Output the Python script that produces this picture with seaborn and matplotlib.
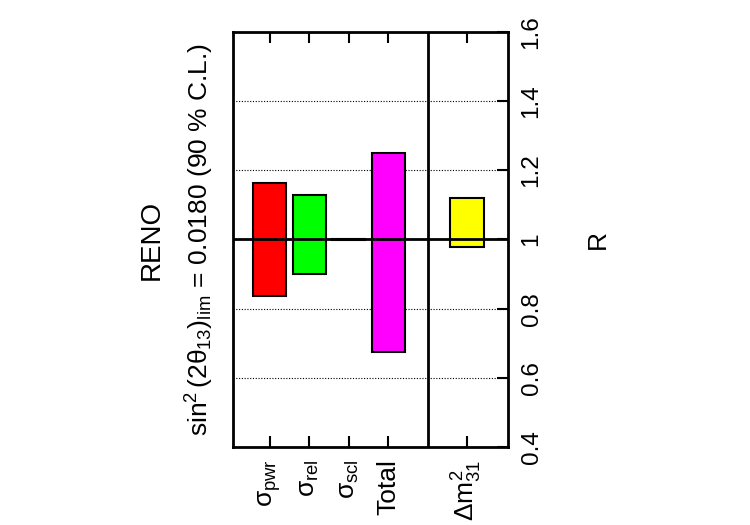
import matplotlib
matplotlib.use("Agg")
import matplotlib.pyplot as plt
import seaborn as sns
import pandas as pd

# RENO: range of R for each systematic
labels = [r"$\sigma_{pwr}$", r"$\sigma_{rel}$", r"$\sigma_{scl}$", "Total", r"$\Delta m^2_{31}$"]
r_low = [0.838, 0.899, 0.999, 0.675, 0.977]
r_high = [1.162, 1.130, 1.001, 1.249, 1.119]
colors = ["#ff0000", "#00ff00", "#0000ff", "#ff00ff", "#ffff00"]
r_ticks = [0.4, 0.6, 0.8, 1.0, 1.2, 1.4, 1.6]
r_ticklabels = ["0.4", "0.6", "0.8", "1", "1.2", "1.4", "1.6"]

sns.set_theme(style="white")
plt.rcParams["font.family"] = ["Liberation Sans", "DejaVu Sans"]
plt.rcParams["mathtext.fontset"] = "custom"
plt.rcParams["mathtext.rm"] = "Liberation Sans"
plt.rcParams["mathtext.it"] = "Liberation Sans"
plt.rcParams["mathtext.bf"] = "Liberation Sans:bold"

df = pd.DataFrame({"label": labels, "low": r_low, "high": r_high})
df["span"] = df["high"] - df["low"]

# empty slot before the last bar, the separator sits there
order = labels[:4] + [""] + labels[4:]

fig = plt.figure(figsize=(7.5, 5.25), dpi=100)
ax = fig.add_axes([0.3107, 0.1486, 0.3667, 0.7905])

# color given so seaborn skips its scout bar; real colours set below
sns.barplot(data=df, x="label", y="span", order=order, bottom=df["low"].to_numpy(),
            color="gray", saturation=1, width=0.84, errorbar=None, ax=ax)
for patch, c in zip(ax.patches, colors):
    patch.set_facecolor(c)
    patch.set_edgecolor("black")
    patch.set_linewidth(1.5)

ax.axhline(1.0, color="black", lw=2, zorder=3)
ax.axvline(order.index(""), color="black", lw=2, zorder=3)

ax.set_xlim(-0.93, 6.04)
ax.set_ylim(0.4, 1.6)
ax.set_xlabel("")
ax.set_ylabel("")

xpos = [i for i, c in enumerate(order) if c]
ax.set_xticks(xpos, labels)
ax.tick_params(axis="x", direction="in", length=8, width=1.5, bottom=True, top=True,
               pad=9, labelsize=19, labelrotation=90, colors="black")

ax.yaxis.tick_right()
ax.set_yticks(r_ticks, r_ticklabels)
ax.tick_params(axis="y", direction="in", length=8, width=1.5, left=False, right=True,
               labelleft=False, labelright=True, pad=9, labelsize=17.5,
               labelrotation=90, colors="black")
for lbl in ax.get_yticklabels():
    lbl.set_va("center")

ax.grid(axis="y", color="black", linestyle=(0, (1, 1.5)), linewidth=0.8)
for sp in ax.spines.values():
    sp.set_color("black")
    sp.set_linewidth(2)

ax.text(-0.295, 0.5, "RENO", transform=ax.transAxes, rotation=90,
        ha="center", va="center", fontsize=20, color="black")
ax.text(-0.12, 0.5, r"$\sin^2(2\theta_{13})_{lim}$ = 0.0180 (90 % C.L.)",
        transform=ax.transAxes, rotation=90, ha="center", va="center",
        fontsize=19, color="black")
ax.text(1.327, 0.5, "R", transform=ax.transAxes, rotation=90,
        ha="center", va="center", fontsize=19, color="black")

fig.savefig("out.png", dpi=100)
